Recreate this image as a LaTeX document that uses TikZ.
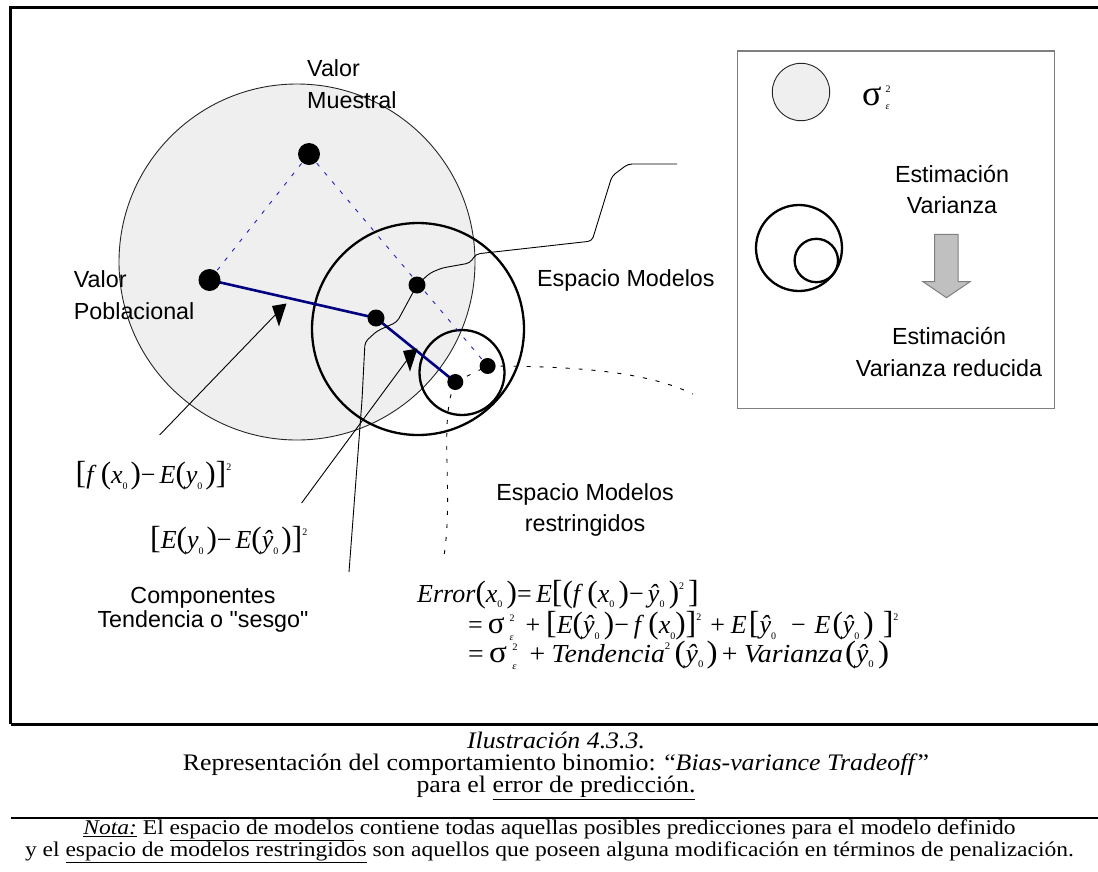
\documentclass[tikz,border=0pt]{standalone}
\usepackage{fontspec}
\usepackage{graphicx}
\setmainfont{Liberation Sans}
\newfontfamily\tnr{Liberation Serif}
\newfontfamily\capfont[FakeStretch=1.09]{Liberation Serif}
\newfontfamily\notefont[FakeStretch=1.12]{Liberation Serif}
\usetikzlibrary{arrows.meta,positioning,calc}
\definecolor{navyline}{HTML}{000080}
\definecolor{dashblue}{HTML}{2020C0}
\definecolor{popgray}{HTML}{EFEFEF}
\definecolor{boxgray}{HTML}{7F7F7F}
\definecolor{arrowgray}{HTML}{C0C0C0}
% tiny indices as in the original equation editor
\newcommand{\idxfont}{\fontsize{10}{10}\selectfont\upshape}
\newcommand{\zl}{\raisebox{-0.5ex}{\idxfont 0}}
\newcommand{\tw}{\raisebox{1.05ex}{\idxfont 2}}
\newcommand{\lpar}{\smash{\fontsize{31}{31}\selectfont(}}
\newcommand{\rpar}{\smash{\fontsize{31}{31}\selectfont)}}
\newcommand{\lbrk}{\smash{\fontsize{32}{32}\selectfont[}}
\newcommand{\rbrk}{\smash{\fontsize{32}{32}\selectfont]}}
\newcommand{\sge}{\smash{\fontsize{31}{31}\selectfont σ}\hspace{5pt}\makebox[0pt][l]{\raisebox{1.0ex}{\idxfont 2}}\raisebox{-0.6ex}{\idxfont\itshape ε}}
\newcommand{\tipmark}[1]{\fill ($(#1)+(-7,-5)$) -- ($(#1)+(7.5,-7.5)$) -- ($(#1)+(0,15.5)$) -- cycle;}
\tikzset{
  frameline/.style={draw=black, line width=2.6pt},
  rowline/.style={draw=black, line width=2pt},
  popspace/.style={circle, draw=black!85, fill=popgray, line width=0.9pt, inner sep=0pt},
  modspace/.style={circle, draw=black, line width=2.3pt, inner sep=0pt},
  bigdot/.style={circle, fill=black, minimum size=22pt, inner sep=0pt},
  dot/.style={circle, fill=black, minimum size=17pt, inner sep=0pt},
  blueline/.style={draw=navyline, line width=2.6pt},
  bluedash/.style={draw=dashblue, line width=0.9pt, dash pattern=on 4pt off 8pt},
  blackdash/.style={draw=black, line width=0.9pt, dash pattern=on 4pt off 9pt},
  thinline/.style={draw=black, line width=0.9pt},
  lbl/.style={font=\fontsize{23.3}{31.3}\selectfont, align=left, inner sep=0pt},
  lblc/.style={font=\fontsize{23.3}{31.3}\selectfont, align=center, inner sep=0pt},
  eqn/.style={font=\tnr\fontsize{26}{30}\selectfont, inner sep=0pt},
  capnode/.style={font=\capfont\fontsize{23.7}{21.4}\selectfont, align=center, inner sep=0pt},
  notenode/.style={font=\notefont\fontsize{21}{22.7}\selectfont, align=center, inner sep=0pt}
}
\begin{document}
\begin{tikzpicture}[x=1pt, y=-1pt]
  \useasboundingbox (0,0) rectangle (1098,871);
  % frame of the figure
  \draw[frameline] (10.5,724.3) -- (10.5,7.3) -- (1098,7.3);
  \draw[frameline] (10.5,724.3) -- (1098,724.3);
  \draw[rowline] (10.5,817.7) -- (1098,817.7);

  % spaces
  \node[popspace, minimum size=356pt] (pop) at (297,262) {};
  \node[modspace, minimum size=212pt] (models) at (418,329) {};
  \node[modspace, minimum size=85pt] (restr) at (462,372.5) {};

  % points
  \coordinate (pm) at (309,154);
  \coordinate (pv) at (209.5,280);
  \coordinate (ma) at (417,285);
  \coordinate (mb) at (376,318);
  \coordinate (rc) at (455.3,382);
  \coordinate (rd) at (487.6,366);
  \coordinate (fr0) at (349,572);
  \coordinate (fr1) at (677,164);
  \coordinate (a1s) at (159.6,435);
  \coordinate (a1e) at (279,311);
  \coordinate (a2s) at (301.6,503);
  \coordinate (a2e) at (410,356);

  \draw[bluedash] (pm) -- (pv);
  \draw[bluedash] (pm) -- (rd);
  \draw[blueline] (pv) -- (mb) -- (rc);
  \draw[blackdash] (rc) -- (rd);
  \draw[blackdash] (rd) .. controls (600,366) and (655,376) .. (693,394);
  \draw[blackdash] (rc) .. controls (438,420) and (454,490) .. (444,556);
  \draw[thinline, rounded corners=4pt] (fr0) -- (362,400) -- (365,342) -- (377,331) -- (397,322) -- (ma) -- (430,273) -- (442,268) -- (470,263) -- (476,254) -- (592,241) -- (612,176) -- (628,164) -- (fr1);
  \draw[thinline] (a1s) -- (a1e);
  \draw[thinline] (a2s) -- (a2e);
  \tipmark{a1e}
  \tipmark{a2e}

  \node[bigdot] (pmdot) at (pm) {};
  \node[bigdot] (pvdot) at (pv) {};
  \node[dot] (madot) at (ma) {};
  \node[dot] (mbdot) at (mb) {};
  \node[dot, minimum size=16pt] (rcdot) at (rc) {};
  \node[dot, minimum size=16pt] (rddot) at (rd) {};

  % labels (base = last line)
  \node[lbl, anchor=base west] (muestral) at (307,108) {Valor\\Muestral};
  \node[lbl, anchor=base west] (poblacional) at (73.7,319) {Valor\\Poblacional};
  \node[lbl, anchor=base west] (espmod) at (537,286) {Espacio Modelos};
  \node[lblc, anchor=base] (esprest) at (585,531.7) {Espacio Modelos\\restringidos};
  \node[lblc, anchor=base, font=\fontsize{23.3}{24}\selectfont] (comp) at (203,627) {Componentes\\Tendencia o \textquotedbl sesgo\textquotedbl};
  \node[eqn, anchor=base west] (sesgo1) at (75.4,483.3) {\lbrk\textit{f}\,\lpar\textit{x}\zl\hspace{3pt}\rpar−\hspace{4pt}\textit{E}\lpar\textit{y}\zl\hspace{3pt}\rpar\rbrk\tw};
  \node[eqn, anchor=base west] (sesgo2) at (150,548.3) {\lbrk\textit{E}\lpar\textit{y}\zl\hspace{3pt}\rpar−\hspace{4pt}\textit{E}\lpar\textit{ŷ}\zl\hspace{3pt}\rpar\rbrk\tw};

  % error decomposition
  \node[eqn, anchor=base west] (err1) at (417,602) {\textit{Error}\lpar\textit{x}\zl\,\rpar=\,\textit{E}\lbrk\lpar\textit{f}\,\lpar\textit{x}\zl\,\rpar−\,\textit{ŷ}\zl\,\rpar\tw\hspace{4pt}\rbrk};
  \node[eqn, anchor=base west] (err2) at (468,633.3) {=\hspace{5pt}\sge\hspace{12pt}+\hspace{6pt}\lbrk\textit{E}\lpar\textit{ŷ}\zl\,\rpar−\hspace{5pt}\textit{f}\,\lpar\textit{x}\zl\rpar\rbrk\tw\hspace{9pt}+\hspace{6pt}\textit{E}\hspace{2pt}\lbrk\textit{ŷ}\zl\hspace{15pt}−\hspace{9pt}\textit{E}\hspace{2pt}\lpar\textit{ŷ}\zl\hspace{4pt}\rpar\hspace{9pt}\rbrk\tw};
  \node[eqn, anchor=base west] (err3) at (468,662) {\scalebox{1.07}[1]{=\hspace{5pt}\sge\hspace{12pt}+\hspace{6pt}\textit{Tendencia}\tw\hspace{4pt}\lpar\textit{ŷ}\zl\hspace{3pt}\rpar\hspace{4pt}+\hspace{6pt}\textit{Varianza}\hspace{2pt}\lpar\textit{ŷ}\zl\hspace{4pt}\rpar}};

  % legend
  \node[draw=boxgray, line width=1.6pt, minimum width=316.7pt, minimum height=357.6pt, inner sep=0pt] (legend) at (896,229.5) {};
  \node[popspace, minimum size=57.4pt] (legsig) at (801,92) {};
  \node[anchor=base west, inner sep=0pt, font=\tnr\fontsize{36}{36}\selectfont] (sigtxt) at (862,105) {σ\hspace{4pt}\makebox[0pt][l]{\raisebox{0.75ex}{\idxfont 2}}\raisebox{-0.3ex}{\idxfont\itshape ε}};
  \node[modspace, minimum size=86pt] (legmod) at (799,248) {};
  \node[modspace, minimum size=43.4pt] (legrest) at (816.3,260.5) {};
  \node[lblc, anchor=base] (estvar) at (952,213.3) {Estimación\\Varianza};
  \node[lblc, anchor=base] (estred) at (949,376) {Estimación\\Varianza reducida};
  \coordinate (blk) at (946.5,234.3);
  \filldraw[fill=arrowgray, draw=boxgray, line width=1pt] ($(blk)+(-12,0)$) -- ($(blk)+(11.5,0)$) -- ($(blk)+(11.5,47.4)$) -- ($(blk)+(23.5,47.4)$) -- ($(blk)+(0,63.4)$) -- ($(blk)+(-23.5,47.4)$) -- ($(blk)+(-12,47.4)$) -- cycle;

  % caption (base = last line)
  \node[capnode, anchor=base] (illus) at (556,792.7) {\textit{Ilustración 4.3.3.}\\Representación del comportamiento binomio: “\textit{Bias-variance Tradeoff}”\\para el \underline{error de predicción.}};
  \node[notenode, anchor=base] (nota) at (549.5,856.7) {\underline{\textit{Nota:}} El \underline{espacio de modelos} contiene todas aquellas posibles predicciones para el modelo definido\\y el \underline{espacio de modelos restringidos} son aquellos que poseen alguna modificación en términos de penalización.};
\end{tikzpicture}
\end{document}
